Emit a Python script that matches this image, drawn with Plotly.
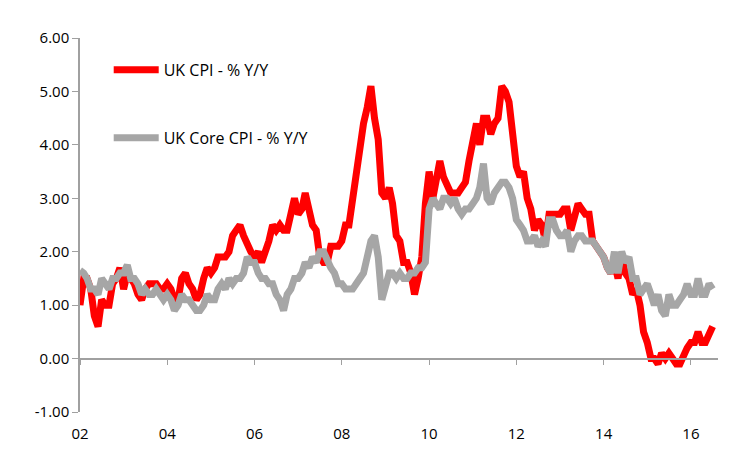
import plotly.graph_objects as go
import pandas as pd

dates = pd.date_range("2002-01-01", periods=175, freq="MS")

cpi = [1.0,1.5,1.5,1.3,0.8,0.6,1.1,1.0,1.0,1.4,1.5,1.7,
       1.3,1.6,1.5,1.4,1.2,1.1,1.3,1.4,1.4,1.4,1.3,1.3,
       1.4,1.3,1.1,1.1,1.5,1.6,1.4,1.3,1.1,1.2,1.5,1.7,
       1.6,1.7,1.9,1.9,1.9,2.0,2.3,2.4,2.5,2.3,2.1,2.0,
       1.9,2.0,1.8,2.0,2.2,2.5,2.4,2.5,2.4,2.4,2.7,3.0,
       2.7,2.8,3.1,2.8,2.5,2.4,1.9,1.8,1.8,2.1,2.1,2.1,
       2.2,2.5,2.5,3.0,3.3,3.8,4.4,4.7,5.1,4.5,4.1,3.1,
       3.0,3.2,2.9,2.3,2.2,1.8,1.8,1.6,1.2,1.5,1.9,2.9,
       3.5,3.0,3.4,3.7,3.4,3.2,3.1,3.1,3.1,3.2,3.3,3.7,
       4.0,4.4,4.0,4.5,4.5,4.2,4.4,4.5,5.1,5.0,4.8,4.2,
       3.6,3.4,3.5,3.0,2.8,2.4,2.6,2.5,2.2,2.7,2.7,2.7,
       2.7,2.8,2.8,2.4,2.7,2.9,2.8,2.7,2.7,2.2,2.1,2.0,
       1.9,1.7,1.6,1.8,1.5,1.9,1.6,1.5,1.2,1.3,1.0,0.5,
       0.3,0.0,0.0,-0.1,0.1,0.0,0.1,0.0,-0.1,-0.1,0.1,0.2,
       0.3,0.3,0.5,0.3,0.3,0.5,0.6]

core = [1.65,1.6,1.5,1.3,1.3,1.2,1.5,1.4,1.3,1.5,1.5,1.6,
        1.6,1.75,1.5,1.5,1.4,1.2,1.3,1.2,1.2,1.3,1.2,1.1,
        1.2,1.1,0.9,1.0,1.2,1.1,1.1,1.0,0.9,0.9,1.0,1.2,
        1.1,1.1,1.3,1.4,1.3,1.5,1.4,1.5,1.5,1.6,1.9,1.8,
        1.8,1.6,1.5,1.5,1.4,1.4,1.2,1.1,0.9,1.2,1.3,1.5,
        1.5,1.6,1.8,1.7,1.9,1.8,2.0,2.0,1.8,1.7,1.6,1.4,
        1.4,1.3,1.3,1.3,1.4,1.5,1.6,1.9,2.2,2.3,1.9,1.1,
        1.3,1.6,1.6,1.5,1.6,1.5,1.5,1.6,1.6,1.7,1.7,1.8,
        2.8,3.0,2.9,2.8,3.0,3.0,2.9,3.0,2.8,2.7,2.8,2.8,
        2.9,3.0,3.2,3.65,3.0,2.9,3.1,3.2,3.3,3.3,3.2,3.0,
        2.6,2.5,2.4,2.2,2.2,2.3,2.1,2.2,2.1,2.6,2.6,2.4,
        2.3,2.3,2.4,2.0,2.2,2.3,2.3,2.2,2.2,2.2,2.1,2.0,
        1.9,1.7,1.6,2.0,1.6,2.0,1.8,1.9,1.5,1.5,1.2,1.3,
        1.4,1.2,1.0,1.2,0.9,0.8,1.2,1.0,1.0,1.1,1.2,1.4,
        1.2,1.2,1.5,1.2,1.2,1.4,1.3]

year_ticks = [f"{y}-01-01" for y in range(2002, 2017, 2)]
year_labels = ["02","04","06","08","10","12","14","16"]
y_ticks = [-1,0,1,2,3,4,5,6]
y_labels = [f"{v:.2f}" for v in y_ticks]

fig = go.Figure()
fig.add_trace(go.Scatter(x=dates, y=cpi, mode="lines", name="UK CPI - % Y/Y",
                         line=dict(color="#ff0000", width=7), legendgroup="a"))
fig.add_trace(go.Scatter(x=dates, y=core, mode="lines", name="UK Core CPI - % Y/Y",
                         line=dict(color="#a6a6a6", width=7), legendgroup="b"))
fig.add_trace(go.Scatter(x=[dates[0]], y=[None], xaxis="x2", showlegend=False, hoverinfo="skip"))

xr = ["2002-01-01", "2016-08-15"]
fig.update_layout(
    width=750, height=451, paper_bgcolor="white", plot_bgcolor="white",
    margin=dict(l=72, r=40, t=30, b=47),
    font=dict(family="Open Sans", size=15, color="black"),
    showlegend=True,
    legend=dict(x=0.045, y=0.96, xanchor="left", yanchor="top", bgcolor="rgba(0,0,0,0)",
                tracegroupgap=44, itemwidth=45, font=dict(size=16)),
    xaxis=dict(range=xr, tickvals=year_ticks, showticklabels=False, showgrid=False,
               showline=True, linecolor="#a0a0a0", linewidth=1.5, ticks="outside",
               ticklen=6, tickcolor="#a0a0a0", anchor="free", position=1/7, zeroline=False),
    xaxis2=dict(range=xr, overlaying="x", tickvals=year_ticks, ticktext=year_labels,
                showgrid=False, showline=False, ticks="outside", ticklen=8,
                tickcolor="rgba(0,0,0,0)", anchor="y", side="bottom",
                tickfont=dict(size=15), automargin=False),
    yaxis=dict(range=[-1, 6], tickvals=y_ticks, ticktext=y_labels, showgrid=False,
               showline=True, linecolor="#a0a0a0", linewidth=1.5, ticks="outside",
               ticklen=6, tickcolor="#a0a0a0", zeroline=False, automargin=False),
)
fig.write_html("out.html")
